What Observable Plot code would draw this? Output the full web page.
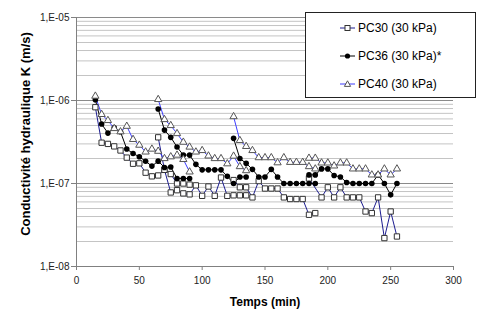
<!DOCTYPE html>
<html><head><meta charset="utf-8">
<script src="https://cdn.jsdelivr.net/npm/d3@7"></script>
<script src="https://cdn.jsdelivr.net/npm/@observablehq/plot@0.6"></script>
<style>
body{margin:0;background:#fff;font-family:"Liberation Sans",Arial,sans-serif;}
#wrap{position:relative;width:480px;height:318px;overflow:hidden;}
#legend{position:absolute;left:305px;top:12px;width:171px;height:86px;border:1px solid #222;background:#fff;box-sizing:border-box;}
.row{position:absolute;left:34px;height:16px;display:flex;align-items:center;font-size:12px;color:#000;white-space:nowrap;}
.row svg{margin-right:3px;}
#ytitle{position:absolute;left:25px;top:134px;transform:translate(-50%,-50%) rotate(-90deg);font-size:13px;font-weight:bold;color:#000;white-space:nowrap;}
</style></head><body><div id="wrap"></div>
<script>
// ---- Data ----
const seriesNames = ["PC30 (30 kPa)", "PC36 (30 kPa)*", "PC40 (30 kPa)"];
const xTitle = "Temps (min)";
const yTitle = "Conductivité hydraulique K (m/s)";

// run time stamps (min)
const run1_t = [15,20,25,30,35,40,45,50,55,60,65,70,75,80,85,90];
const run2_t = [65,70,75,80,85,90,95,100,105,110,115,120,125,130,135];
const run3_t = [125,130,135,140,145,150,155,160,165,170,175,180,185,190];
const run4_t = [185,190,195,200,205,210,215,220,225,230,235,240,245,250,255];
const pc30_run4_t = [185,195,200,205,210,215,220,225,230,235,240,245,250,255];

// PC30 (30 kPa) hydraulic conductivity K (m/s)
const pc30_run1 = [8.3e-7,3.1e-7,3.0e-7,2.8e-7,2.5e-7,2.05e-7,1.73e-7,1.75e-7,1.35e-7,1.22e-7,1.25e-7,1.46e-7,1.3e-7,1.0e-7,1.0e-7,9.7e-8];
const pc30_run2 = [3.6e-7,1.46e-7,7.8e-8,8.3e-8,7.6e-8,7.4e-8,9.5e-8,7.1e-8,9.2e-8,7.1e-8,1.18e-7,7.1e-8,7.2e-8,7.2e-8,7.2e-8];
const pc30_run3 = [1.1e-7,9.0e-8,9.0e-8,6.8e-8,1.07e-7,8.7e-8,8.7e-8,8.7e-8,6.8e-8,6.5e-8,6.5e-8,6.5e-8,4.2e-8,4.4e-8];
const pc30_run4 = [1.15e-7,6.8e-8,9.0e-8,6.8e-8,9.0e-8,6.8e-8,6.8e-8,6.8e-8,4.6e-8,4.4e-8,6.8e-8,2.2e-8,4.6e-8,2.3e-8];

// PC36 (30 kPa)*
const pc36_run1 = [1.02e-6,5.2e-7,4.05e-7,4.7e-7,4.2e-7,2.6e-7,2.3e-7,2.1e-7,1.85e-7,1.62e-7,1.86e-7,1.56e-7,1.58e-7,1.15e-7,1.15e-7,1.15e-7];
const pc36_run2 = [7.9e-7,4.4e-7,3.6e-7,2.75e-7,2.2e-7,2.2e-7,1.7e-7,1.46e-7,1.46e-7,1.46e-7,1.46e-7,1.22e-7,1.0e-7,1.2e-7,1.2e-7];
const pc36_run3 = [3.5e-7,2.0e-7,1.75e-7,1.48e-7,1.2e-7,1.2e-7,1.48e-7,1.2e-7,1.0e-7,1.0e-7,1.0e-7,1.0e-7,1.0e-7,1.0e-7];
const pc36_run4 = [1.27e-7,1.27e-7,1.5e-7,1.5e-7,1.25e-7,1.2e-7,1.03e-7,1.0e-7,1.0e-7,1.0e-7,1.0e-7,1.27e-7,1.0e-7,7.3e-8,1.0e-7];

// PC40 (30 kPa)
const pc40_run1 = [1.13e-6,6.8e-7,5.75e-7,4.6e-7,4.2e-7,4.9e-7,3.4e-7,2.9e-7,2.4e-7,2.6e-7,2.45e-7,2.0e-7,2.1e-7,2.2e-7,1.95e-7,1.38e-7];
const pc40_run2 = [1.03e-6,5.9e-7,5.0e-7,4.0e-7,3.15e-7,2.75e-7,2.4e-7,2.5e-7,2.15e-7,2.0e-7,2.0e-7,1.73e-7,2.14e-7,1.6e-7,1.43e-7];
const pc40_run3 = [6.4e-7,3.3e-7,2.8e-7,2.5e-7,2.05e-7,2.05e-7,2.05e-7,1.78e-7,2.05e-7,1.8e-7,1.8e-7,1.8e-7,1.6e-7,1.5e-7];
const pc40_run4 = [2.02e-7,2.02e-7,1.77e-7,1.77e-7,1.63e-7,1.77e-7,1.77e-7,1.5e-7,1.5e-7,1.5e-7,1.27e-7,1.27e-7,1.5e-7,1.27e-7,1.5e-7];

// axis ticks
const xTicks = [0,50,100,150,200,250,300];
const yMajor = [1e-8,1e-7,1e-6,1e-5];
const yLabels = ["1,E-08","1,E-07","1,E-06","1,E-05"];

// ---- Build tables ----
function table(name, runs) {
  const out = [];
  runs.forEach(([ts, ks], i) => ts.forEach((t, j) => out.push({series: name, run: name + i, t, k: ks[j]})));
  return out;
}
const d30 = table(seriesNames[0], [[run1_t,pc30_run1],[run2_t,pc30_run2],[run3_t,pc30_run3],[pc30_run4_t,pc30_run4]]);
const d36 = table(seriesNames[1], [[run1_t,pc36_run1],[run2_t,pc36_run2],[run3_t,pc36_run3],[run4_t,pc36_run4]]);
const d40 = table(seriesNames[2], [[run1_t,pc40_run1],[run2_t,pc40_run2],[run3_t,pc40_run3],[run4_t,pc40_run4]]);

const yMinor = d3.scaleLog().domain([1e-8,1e-5]).ticks().filter(v => !yMajor.some(m => Math.abs(m - v) / m < 1e-6));

const col30 = "#1c1c90", col36 = "#000000", col40 = "#3c3cff";

const chart = Plot.plot({
  width: 480, height: 318,
  marginLeft: 76, marginRight: 27, marginTop: 17, marginBottom: 52,
  style: {fontFamily: '"Liberation Sans", Arial, sans-serif', background: "transparent", overflow: "visible"},
  x: {domain: [0,300], label: null},
  y: {type: "log", domain: [1e-8,1e-5], label: null},
  marks: [
    Plot.ruleY(yMinor, {stroke: "#c4c4c4", strokeWidth: 1}),
    Plot.ruleY(yMajor, {stroke: "#8a8a8a", strokeWidth: 1}),
    Plot.ruleX([0], {stroke: "#808080"}),
    Plot.ruleY([1e-8], {stroke: "#808080"}),
    Plot.axisY(yMajor, {tickSize: 5, tickPadding: 2, stroke: "#808080", fontSize: 10, fill: "#222",
      tickFormat: d => yLabels[yMajor.indexOf(d)]}),
    Plot.axisX(xTicks, {tickSize: 4, tickPadding: 6, stroke: "#808080", fontSize: 10, fill: "#222", tickFormat: d => String(d)}),
    Plot.line(d30, {x: "t", y: "k", z: "run", stroke: col30, strokeWidth: 1}),
    Plot.line(d36, {x: "t", y: "k", z: "run", stroke: col36, strokeWidth: 1}),
    Plot.line(d40, {x: "t", y: "k", z: "run", stroke: col40, strokeWidth: 1}),
    Plot.dot(d30, {x: "t", y: "k", symbol: "square", r: 3.0, fill: "#fff", stroke: "#333", strokeWidth: 1}),
    Plot.dot(d36, {x: "t", y: "k", symbol: "circle", r: 2.8, fill: "#000", stroke: "none"}),
    Plot.dot(d40, {x: "t", y: "k", symbol: "triangle", r: 2.7, fill: "#fff", stroke: "#555", strokeWidth: 1}),
    Plot.text([xTitle], {frameAnchor: "bottom", dy: 39, text: d => d, fontSize: 12, fontWeight: "bold", fill: "#000"})
  ]
});
const wrap = document.getElementById("wrap");
wrap.appendChild(chart);

// y-axis title
const yt = document.createElement("div");
yt.id = "ytitle";
yt.textContent = yTitle;
wrap.appendChild(yt);

// legend
const legend = document.createElement("div");
legend.id = "legend";
const sym = [
  `<rect x="5" y="3.5" width="5" height="5" fill="#fff" stroke="#333"/>`,
  `<circle cx="7.5" cy="6" r="2.6" fill="#000"/>`,
  `<path d="M7.5 2.8 L10.6 8.4 L4.4 8.4 Z" fill="#fff" stroke="#555"/>`
];
const lc = [col30, col36, col40];
const ys = [7, 35, 63];
seriesNames.forEach((n, i) => {
  const r = document.createElement("div");
  r.className = "row";
  r.style.top = ys[i] + "px";
  r.innerHTML = `<svg width="15" height="12"><line x1="0" x2="15" y1="6" y2="6" stroke="${lc[i]}"/>${sym[i]}</svg><span>${n}</span>`;
  legend.appendChild(r);
});
wrap.appendChild(legend);
</script></body></html>
